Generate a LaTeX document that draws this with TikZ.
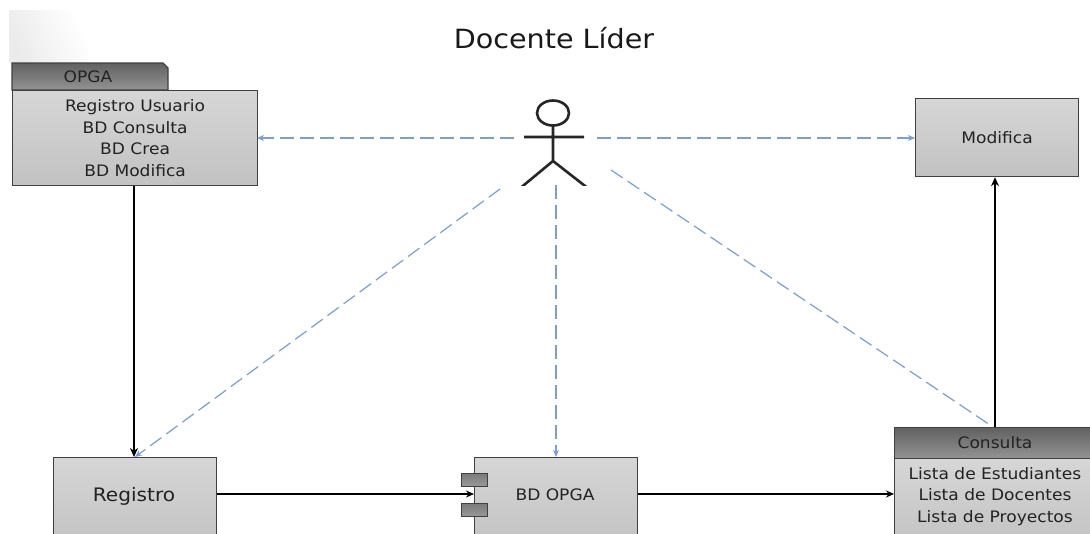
\documentclass[tikz,border=0pt]{standalone}
\usepackage{fontspec}
\setmainfont[FakeStretch=1.08]{DejaVu Sans}
\usetikzlibrary{arrows.meta}
\definecolor{dashblue}{HTML}{7A9EDA}
\definecolor{inktext}{HTML}{222222}
\tikzset{
  panel/.style={draw=black!75,line width=1.2pt,top color=black!16,bottom color=black!24,shading angle=0,inner sep=0pt,anchor=north west,text=inktext,font=\fontsize{15.8}{21.6}\selectfont,align=center},
  header/.style={panel,top color=black!62,bottom color=black!42},
  port/.style={panel,top color=black!52,bottom color=black!40,line width=1pt},
  flow/.style={draw=black,line width=2.3pt,-{Stealth[length=9pt,width=8pt]}},
  thinflow/.style={flow,line width=1.8pt,-{Stealth[length=8pt,width=7pt]}},
  usage/.style={draw=dashblue,line width=1.2pt,dash pattern=on 14pt off 6pt,-{Stealth[length=7pt,width=6pt]}},
  usageplain/.style={draw=dashblue,line width=1.2pt,dash pattern=on 14pt off 6pt},
  limb/.style={draw=black!85,line width=2.6pt},
  label/.style={inner sep=0pt,text=inktext,font=\fontsize{15.8}{21.6}\selectfont}
}
\begin{document}
\begin{tikzpicture}[x=1pt,y=-1pt]
\path[use as bounding box,clip] (0,0) rectangle (1090,533);
\fill[white] (0,0) rectangle (1090,533);
% faint corner patch
\shade[left color=black!8,right color=white,shading angle=115] (9,10) rectangle (88,62);
% title
\node[inner sep=0pt,text=black!90,font=\fontsize{26.5}{30}\selectfont] (title) at (554,38) {Docente Líder};
% OPGA package
\draw[panel,top color=black!62,bottom color=black!42] (12,90) -- (12,63) -- (163,63) -- (168,68) -- (168,90) -- cycle;
\node[label] (opgatab) at (88,77) {OPGA};
\node[panel,minimum width=245pt,minimum height=95pt] (opga) at (12,90) {Registro Usuario\\BD Consulta\\BD Crea\\BD Modifica};
% Modifica
\node[panel,minimum width=163pt,minimum height=78pt] (modifica) at (915,98) {Modifica};
% Registro
\node[panel,minimum width=163pt,minimum height=90pt] (registro) at (53,457) {};
\node[label,font=\fontsize{18.6}{22}\selectfont] (registrotext) at (134,496) {Registro};
% BD OPGA
\node[panel,minimum width=163pt,minimum height=90pt] (bd) at (474,457) {};
\node[label] (bdtext) at (555,495) {BD OPGA};
\node[port,minimum width=26pt,minimum height=13pt] (porta) at (461,473) {};
\node[port,minimum width=26pt,minimum height=13pt] (portb) at (461,503) {};
% Consulta
\node[panel,minimum width=210pt,minimum height=90pt] (consulta) at (894,458) {};
\node[header,minimum width=210pt,minimum height=31pt] (consultahead) at (894,427) {};
\node[label] (consultatitle) at (995,443) {Consulta};
\node[label,align=center,font=\fontsize{15.8}{21.8}\selectfont] (consultalist) at (995,496.5) {Lista de Estudiantes\\Lista de Docentes\\Lista de Proyectos};
% actor
\draw[limb] (553,113) ellipse (16pt and 12.5pt);
\coordinate (neck) at (553,125.5);
\coordinate (hip) at (553,161);
\coordinate (arml) at (524,137);
\coordinate (armr) at (584,137);
\coordinate (legl) at (521,187.5);
\coordinate (legr) at (587,187.5);
\begin{scope}
\clip (500,90) rectangle (610,185);
\draw[limb] (neck) -- (hip) (arml) -- (armr) (legl) -- (hip) -- (legr);
\end{scope}
% free ends of usage lines
\coordinate (ua) at (514,138);
\coordinate (ub) at (597,138);
\coordinate (uc) at (500,189);
\coordinate (ud) at (556,185);
\coordinate (ue) at (611,170);
\coordinate (opgain) at (257,138);
\coordinate (modin) at (915,138);
\coordinate (regin) at (135,457);
\coordinate (bdin) at (556,457);
\coordinate (conin) at (993,427);
\draw[usage] (ua) -- (opgain);
\draw[usage] (ub) -- (modin);
\draw[usage] (uc) -- (regin);
\draw[usage] (ud) -- (bdin);
\draw[usageplain] (ue) -- (conin);
% flows
\draw[flow] (opga.south -| 134,0) -- (registro.north -| 134,0);
\draw[flow] (consultahead.north -| 995,0) -- (modifica.south -| 995,0);
\draw[thinflow] (registro.east |- 0,494) -- (bd.west |- 0,494);
\draw[thinflow] (bd.east |- 0,494) -- (consulta.west |- 0,494);
\end{tikzpicture}
\end{document}
